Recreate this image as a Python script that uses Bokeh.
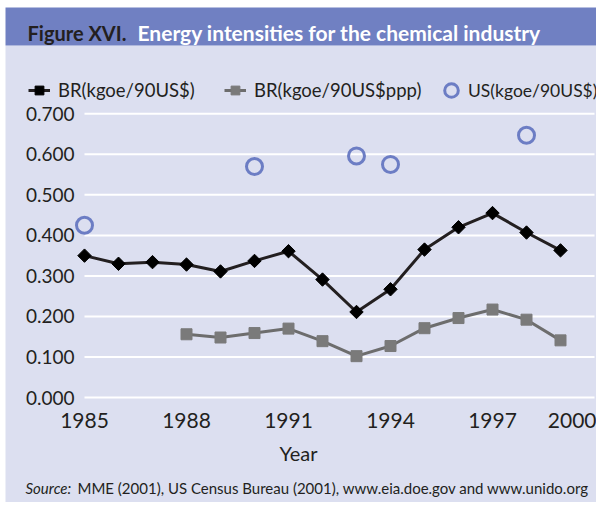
from bokeh.plotting import figure
from bokeh.models import (Range1d, FixedTicker, PrintfTickFormatter, Legend, LegendItem,
                          BoxAnnotation, Label)
from bokeh.embed import file_html
from bokeh.resources import INLINE
import numpy as np

# ---- data ----
years = [1985, 1986, 1987, 1988, 1989, 1990, 1991, 1992, 1993, 1994, 1995, 1996, 1997, 1998, 1999]
br_kgoe = [0.350, 0.330, 0.334, 0.328, 0.311, 0.337, 0.361, 0.291, 0.211, 0.267, 0.365, 0.420, 0.455, 0.407, 0.363]
ppp_years = [1988, 1989, 1990, 1991, 1992, 1993, 1994, 1995, 1996, 1997, 1998, 1999]
br_ppp = [0.156, 0.148, 0.159, 0.170, 0.139, 0.102, 0.127, 0.171, 0.196, 0.217, 0.192, 0.141]
us_years = [1985, 1990, 1993, 1994, 1998]
us_kgoe = [0.425, 0.570, 0.596, 0.575, 0.647]
x_ticks = [1985, 1988, 1991, 1994, 1997, 2000]
y_ticks = [0.0, 0.1, 0.2, 0.3, 0.4, 0.5, 0.6, 0.7]
series_names = ["BR(kgoe/90US$)", "BR(kgoe/90US$ppp)", "US(kgoe/90US$)"]
title_lead = "Figure XVI."
title_text = "Energy intensities for the chemical industry"
source_lead = "Source:"
source_text = "MME (2001), US Census Bureau (2001), www.eia.doe.gov and www.unido.org"

BG = "#dcdff0"
BAND = "#7080c2"
DARK = "#231f20"
FONT = "Lato"
W, H = 596, 502

# pixel layout of the frame (frame covers the whole canvas)
X_ORIGIN_PX, PX_PER_YEAR = 84.0, 34.0
Y_ORIGIN_PX, PX_PER_UNIT = 397.0, 405.3


def px2x(px):
    return x_ticks[0] + (px - X_ORIGIN_PX) / PX_PER_YEAR


def px2y(py):
    return y_ticks[0] + (Y_ORIGIN_PX - py) / PX_PER_UNIT


p = figure(width=W, height=H, output_backend="svg", toolbar_location=None,
           x_range=Range1d(px2x(0), px2x(W)), y_range=Range1d(px2y(H), px2y(0)),
           min_border=0)
p.title.visible = False
p.background_fill_color = "white"
p.border_fill_color = "white"
p.outline_line_color = None
p.xgrid.visible = False
p.ygrid.visible = False

# panels
p.add_layout(BoxAnnotation(left=px2x(5), right=None, top=px2y(45), bottom=None,
                           fill_color=BG, fill_alpha=1, line_color=None, level="underlay"))
p.add_layout(BoxAnnotation(left=px2x(5), right=None, top=px2y(7), bottom=px2y(45),
                           fill_color=BAND, fill_alpha=1, line_color=None, level="underlay"))

# grid lines (white)
p.segment(x0=[x_ticks[0]] * len(y_ticks), x1=[x_ticks[-1]] * len(y_ticks), y0=y_ticks, y1=y_ticks,
          line_color="white", line_width=2)

# series
l1 = p.line(years, br_kgoe, line_color=DARK, line_width=3)
m1 = p.scatter(years, br_kgoe, marker="square", angle=np.pi / 4, size=9.5,
               fill_color="black", line_color="black")
l2 = p.line(ppp_years, br_ppp, line_color="#6d6d6d", line_width=3)
m2 = p.scatter(ppp_years, br_ppp, marker="square", size=11, fill_color="#7a7a7a", line_color="#7a7a7a")
m3 = p.scatter(us_years, us_kgoe, marker="circle", size=16, fill_color=None,
               line_color="#6c7dc4", line_width=3)

# axes (fixed inside the frame)
p.xaxis.ticker = FixedTicker(ticks=x_ticks)
p.yaxis.ticker = FixedTicker(ticks=y_ticks)
p.yaxis.formatter = PrintfTickFormatter(format="%.3f")
p.xaxis.fixed_location = y_ticks[0]
p.yaxis.fixed_location = x_ticks[0]
for ax in (p.xaxis[0], p.yaxis[0]):
    ax.axis_line_color = None
    ax.major_tick_line_color = None
    ax.minor_tick_line_color = None
    ax.major_tick_in = 0
    ax.major_tick_out = 0
    ax.major_label_text_font = FONT
    ax.major_label_text_color = DARK
p.yaxis.major_label_text_font_size = "19px"
p.xaxis.major_label_text_font_size = "21px"
p.yaxis.major_label_standoff = 10
p.xaxis.major_label_standoff = 15
p.xaxis.axis_label = "Year"
p.xaxis.axis_label_text_font = FONT
p.xaxis.axis_label_text_font_size = "20px"
p.xaxis.axis_label_text_font_style = "normal"
p.xaxis.axis_label_text_color = DARK
p.xaxis.axis_label_standoff = 10

# legends (one per entry, each placed where the reference shows it)
# (renderers, left px, glyph box size, label standoff, font size)
legend_specs = [([l1, m1], 28, 22, 8, "18.5px"),
                ([l2, m2], 224, 22, 8, "18.5px"),
                ([m3], 434, 34, 0, "17.5px")]
for (rends, left_px, gsize, standoff, fsize), name in zip(legend_specs, series_names):
    lg = Legend(items=[LegendItem(label=name, renderers=rends)],
                orientation="horizontal", location=(left_px, H - (90 + gsize / 2)),
                background_fill_alpha=0, border_line_color=None,
                label_text_font=FONT, label_text_font_size=fsize, label_text_color=DARK,
                glyph_width=gsize, glyph_height=gsize, label_height=gsize, label_standoff=standoff,
                padding=0, margin=0, spacing=0)
    p.add_layout(lg, "center")

# title
p.add_layout(Label(x=px2x(27), y=px2y(32), text=title_lead,
                   text_font=FONT, text_font_style="bold", text_font_size="20px",
                   text_color=DARK, text_baseline="alphabetic"))
p.add_layout(Label(x=px2x(137), y=px2y(32), text=title_text,
                   text_font=FONT, text_font_style="bold", text_font_size="21px",
                   text_color="white", text_baseline="alphabetic"))
# source
p.add_layout(Label(x=px2x(25), y=px2y(487), text=source_lead,
                   text_font=FONT, text_font_style="italic", text_font_size="15px",
                   text_color=DARK, text_baseline="alphabetic"))
p.add_layout(Label(x=px2x(77), y=px2y(487), text=source_text,
                   text_font=FONT, text_font_size="15px",
                   text_color=DARK, text_baseline="alphabetic"))

open("out.html", "w").write(file_html(p, INLINE))
